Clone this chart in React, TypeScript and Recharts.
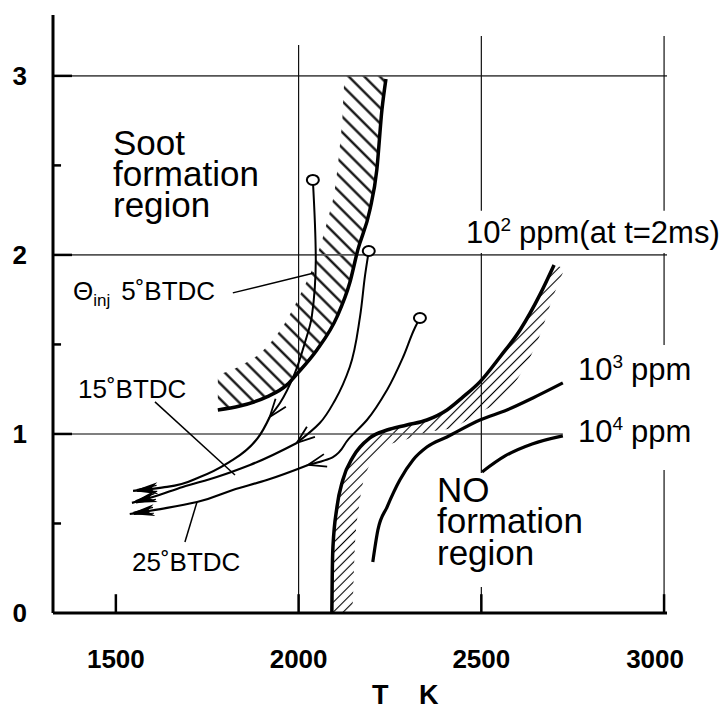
import React from 'react';
import { ComposedChart, Line, Area, XAxis, YAxis, ReferenceLine } from 'recharts';

// ---------- data (T in K, y = equivalence ratio-like quantity) ----------
const xTicks = [1500, 2000, 2500, 3000];
const yTicks = [0, 1, 2, 3];
const yMinorTicks = [0.5, 1.5, 2.5];

// soot formation boundary (thick curve)
const sootBoundary: [number, number][] = [
  [1779, 1.134], [1839, 1.156], [1913, 1.207], [1968, 1.274], [1998, 1.341],
  [2050, 1.469], [2105, 1.654], [2140, 1.844], [2162, 2.028], [2195, 2.251],
  [2214, 2.475], [2228, 2.81], [2239, 2.983],
];
// hatched soot band: x, low, high
const sootBand: [number, number, number][] = [
  [1779, 1.134, 1.33], [1840, 1.156, 1.38], [1900, 1.2, 1.46], [1950, 1.25, 1.58],
  [2000, 1.345, 1.76], [2050, 1.47, 1.99], [2080, 1.56, 2.2], [2100, 1.63, 2.38],
  [2110, 1.68, 2.55], [2120, 1.74, 2.77], [2127, 1.77, 3.0], [2162, 2.03, 3.0],
  [2195, 2.25, 3.0], [2215, 2.48, 3.0], [2228, 2.81, 3.0], [2239, 2.98, 3.0],
];
// NO 10^2 ppm curve (thick)
const no100: [number, number][] = [
  [2091, 0], [2092, 0.2], [2094, 0.369], [2105, 0.592], [2121, 0.743], [2149, 0.872],
  [2195, 0.978], [2242, 1.022], [2296, 1.05], [2351, 1.078], [2406, 1.134],
  [2450, 1.207], [2496, 1.291], [2551, 1.43], [2606, 1.581], [2660, 1.777], [2699, 1.944],
];
// hatched NO band: x, low, high
const noBand: [number, number, number][] = [
  [2091, 0, 0.3], [2096, 0, 0.45], [2105, 0, 0.59], [2121, 0, 0.74], [2146, 0, 0.86],
  [2154, 0.37, 0.89], [2168, 0.63, 0.92], [2195, 0.83, 0.98], [2242, 0.93, 1.02],
  [2296, 0.97, 1.05], [2351, 1.01, 1.08], [2414, 1.03, 1.15], [2496, 1.12, 1.29],
  [2551, 1.19, 1.43], [2606, 1.33, 1.58], [2660, 1.55, 1.78], [2699, 1.78, 1.94],
  [2723, 1.9, 1.93],
];
const no1000: [number, number][] = [
  [2203, 0.285], [2217, 0.464], [2242, 0.592], [2277, 0.743], [2313, 0.855],
  [2351, 0.927], [2406, 0.983], [2496, 1.078], [2570, 1.134], [2641, 1.201], [2723, 1.285],
];
const no10000: [number, number][] = [
  [2502, 0.788], [2565, 0.877], [2639, 0.944], [2723, 0.989],
];
// injection-timing trajectories (upper part to mid arrow, lower part to end arrow)
const inj5Upper: [number, number][] = [
  [2039, 2.419], [2047, 1.972], [2036, 1.654], [2017, 1.508], [1990, 1.341],
  [1949, 1.173], [1921, 1.095],
];
const inj5Lower: [number, number][] = [
  [1921, 1.095], [1820, 0.855], [1730, 0.76], [1640, 0.704], [1547, 0.682],
];
const inj15Upper: [number, number][] = [
  [2192, 2.022], [2182, 1.888], [2168, 1.654], [2140, 1.374], [2100, 1.19],
  [2058, 1.061], [1995, 0.95],
];
const inj15Lower: [number, number][] = [
  [1995, 0.95], [1867, 0.827], [1776, 0.76], [1683, 0.704], [1601, 0.648], [1544, 0.615],
];
const inj25Upper: [number, number][] = [
  [2332, 1.648], [2318, 1.592], [2286, 1.43], [2242, 1.246], [2187, 1.078],
  [2136, 0.97], [2094, 0.871], [2026, 0.827],
];
const inj25Lower: [number, number][] = [
  [2026, 0.827], [1913, 0.743], [1820, 0.687], [1722, 0.62], [1640, 0.587], [1538, 0.553],
];
// label leader lines
const leaders: [number, number, number, number][] = [
  [1820, 1.788, 2042, 1.899],
  [1607, 1.179, 1826, 0.771],
  [1689, 0.397, 1722, 0.62],
];
// grid lines
const hGrid: [number, number, number][] = [
  [3, 1328, 3008], [2, 1328, 3008], [1, 1328, 2723],
];
const vGrid: [number, number, number][] = [
  [2000, 0, 3.173],
  [2500, 2.246, 3.223], [2500, 0.782, 2.011], [2500, 0, 0.145],
  [3000, 2.246, 3.223], [3000, 1.497, 2.011], [3000, 0, 0.799],
];

// ---------- rendering ----------
const FONT = "'Liberation Sans', Arial, Helvetica, sans-serif";
const pts = (a: [number, number][]) => a.map(([x, y]) => ({ x, y }));
const band = (a: [number, number, number][]) => a.map(([x, lo, hi]) => ({ x, r: [lo, hi] }));

function XTick(props: any) {
  const { x, y, payload } = props;
  const shift = payload.value === 3000 ? -9 : 0;
  return (
    <text x={x + shift} y={y + 55} textAnchor="middle" fontFamily={FONT} fontWeight="bold" fontSize={26} fill="#000">
      {payload.value}
    </text>
  );
}

function YTick(props: any) {
  const { x, y, payload } = props;
  return (
    <text x={x - 26} y={y} dy="0.36em" textAnchor="end" fontFamily={FONT} fontWeight="bold" fontSize={26} fill="#000">
      {payload.value}
    </text>
  );
}

const lineCommon = {
  dataKey: 'y',
  dot: false,
  activeDot: false,
  isAnimationActive: false,
  stroke: '#000',
} as const;

export default function App() {
  return (
    <div style={{ position: 'absolute', left: 0, top: 0, background: '#fff' }}>
      <ComposedChart width={728} height={709} margin={{ top: 15, right: 61, bottom: 0, left: 0 }}>
        <defs>
          <pattern id="hatchSoot" patternUnits="userSpaceOnUse" width="11" height="11" patternTransform="rotate(-45)">
            <line x1="5.5" y1="0" x2="5.5" y2="11" stroke="#000" strokeWidth="2.2" />
          </pattern>
          <pattern id="hatchNO" patternUnits="userSpaceOnUse" width="7" height="7" patternTransform="rotate(45)">
            <line x1="3.5" y1="0" x2="3.5" y2="7" stroke="#000" strokeWidth="1.1" />
          </pattern>
          <marker id="ring" markerUnits="userSpaceOnUse" markerWidth="18" markerHeight="16" viewBox="-9 -8 18 16" refX="0" refY="0" orient="0">
            <ellipse cx="0" cy="0" rx="6" ry="5" fill="#fff" stroke="#000" strokeWidth="2" />
          </marker>
          <marker id="midArrow" markerUnits="userSpaceOnUse" markerWidth="24" markerHeight="18" viewBox="-22 -9 24 18" refX="0" refY="0" orient="auto">
            <path d="M -18 -6.5 L 0 0 L -18 6.5" fill="none" stroke="#000" strokeWidth="1.8" />
          </marker>
          <marker id="endArrow" markerUnits="userSpaceOnUse" markerWidth="30" markerHeight="18" viewBox="-28 -9 30 18" refX="0" refY="0" orient="auto">
            <path d="M 0 0 L -25 -6 L -18 0 L -25 6 Z" fill="#000" />
            <path d="M -4 -1 L -24 -3 M -4 1 L -24 3" stroke="#000" strokeWidth="1.2" />
          </marker>
        </defs>

        <XAxis
          type="number"
          dataKey="x"
          domain={[1328, 3008]}
          allowDataOverflow
          ticks={xTicks}
          interval={0}
          height={96}
          tickLine={false}
          tickSize={0}
          tickMargin={0}
          axisLine={{ stroke: '#000', strokeWidth: 3 }}
          tick={<XTick />}
        />
        <YAxis
          type="number"
          domain={[0, 3.34]}
          allowDataOverflow
          ticks={yTicks}
          interval={0}
          width={53}
          tickLine={false}
          tickSize={0}
          tickMargin={0}
          axisLine={{ stroke: '#000', strokeWidth: 3 }}
          tick={<YTick />}
        />

        {hGrid.map(([y, x0, x1], i) => (
          <ReferenceLine key={'h' + i} segment={[{ x: x0, y }, { x: x1, y }]} stroke="#555" strokeWidth={1.6} />
        ))}
        {vGrid.map(([x, y0, y1], i) => (
          <ReferenceLine key={'v' + i} segment={[{ x, y: y0 }, { x, y: y1 }]} stroke="#111" strokeWidth={1.2} />
        ))}
        {yTicks.filter((v) => v > 0).map((v) => (
          <ReferenceLine key={'ty' + v} segment={[{ x: 1328, y: v }, { x: 1380, y: v }]} stroke="#000" strokeWidth={2.5} />
        ))}
        {yMinorTicks.map((v) => (
          <ReferenceLine key={'tm' + v} segment={[{ x: 1328, y: v }, { x: 1350, y: v }]} stroke="#000" strokeWidth={2.5} />
        ))}
        {xTicks.map((v) => (
          <ReferenceLine key={'tx' + v} segment={[{ x: v, y: 0 }, { x: v, y: 0.105 }]} stroke="#000" strokeWidth={2.5} />
        ))}
        {leaders.map(([x0, y0, x1, y1], i) => (
          <ReferenceLine key={'l' + i} segment={[{ x: x0, y: y0 }, { x: x1, y: y1 }]} stroke="#000" strokeWidth={1.5} />
        ))}

        <Area data={band(sootBand)} dataKey="r" type="monotone" stroke="none" fill="url(#hatchSoot)" fillOpacity={1} dot={false} activeDot={false} isAnimationActive={false} />
        <Area data={band(noBand)} dataKey="r" type="monotone" stroke="none" fill="url(#hatchNO)" fillOpacity={1} dot={false} activeDot={false} isAnimationActive={false} />

        <Line {...lineCommon} data={pts(sootBoundary)} type="monotone" strokeWidth={3.5} />
        <Line {...lineCommon} data={pts(no100)} type="monotone" strokeWidth={3.5} />
        <Line {...lineCommon} data={pts(no1000)} type="monotone" strokeWidth={3.2} />
        <Line {...lineCommon} data={pts(no10000)} type="monotone" strokeWidth={3.2} />

        <Line {...lineCommon} data={pts(inj5Upper)} type="monotoneY" strokeWidth={2} markerStart="url(#ring)" markerEnd="url(#midArrow)" />
        <Line {...lineCommon} data={pts(inj5Lower)} type="monotoneY" strokeWidth={2.2} markerEnd="url(#endArrow)" />
        <Line {...lineCommon} data={pts(inj15Upper)} type="monotoneY" strokeWidth={2} markerStart="url(#ring)" markerEnd="url(#midArrow)" />
        <Line {...lineCommon} data={pts(inj15Lower)} type="monotoneY" strokeWidth={2.2} markerEnd="url(#endArrow)" />
        <Line {...lineCommon} data={pts(inj25Upper)} type="monotoneY" strokeWidth={2} markerStart="url(#ring)" markerEnd="url(#midArrow)" />
        <Line {...lineCommon} data={pts(inj25Lower)} type="monotoneY" strokeWidth={2.2} markerEnd="url(#endArrow)" />
      </ComposedChart>

      <svg width={728} height={709} style={{ position: 'absolute', left: 0, top: 0, pointerEvents: 'none' }} fontFamily={FONT} fill="#000">
        <text fontSize={35}>
          <tspan x={113} y={155}>Soot</tspan>
          <tspan x={113} y={186}>formation</tspan>
          <tspan x={113} y={217}>region</tspan>
        </text>
        <text fontSize={35}>
          <tspan x={437} y={502}>NO</tspan>
          <tspan x={437} y={533}>formation</tspan>
          <tspan x={437} y={565}>region</tspan>
        </text>
        <text x={466} y={243} fontSize={31}>
          10<tspan fontSize={19} dy={-12}>2</tspan><tspan dy={12} dx={8}>ppm(at t=2ms)</tspan>
        </text>
        <text x={578} y={380} fontSize={31}>
          10<tspan fontSize={19} dy={-12}>3</tspan><tspan dy={12} dx={8}>ppm</tspan>
        </text>
        <text x={578} y={442} fontSize={31}>
          10<tspan fontSize={19} dy={-12}>4</tspan><tspan dy={12} dx={8}>ppm</tspan>
        </text>
        <text x={73} y={300} fontSize={26}>
          Θ<tspan fontSize={17} dy={6}>inj</tspan><tspan dy={-6} dx={11}>5˚BTDC</tspan>
        </text>
        <text x={78} y={398} fontSize={26}>15˚BTDC</text>
        <text x={132} y={571} fontSize={26}>25˚BTDC</text>
        <text x={372} y={704} fontSize={27} fontWeight="bold">T</text>
        <text x={419} y={704} fontSize={27} fontWeight="bold">K</text>
      </svg>
    </div>
  );
}
